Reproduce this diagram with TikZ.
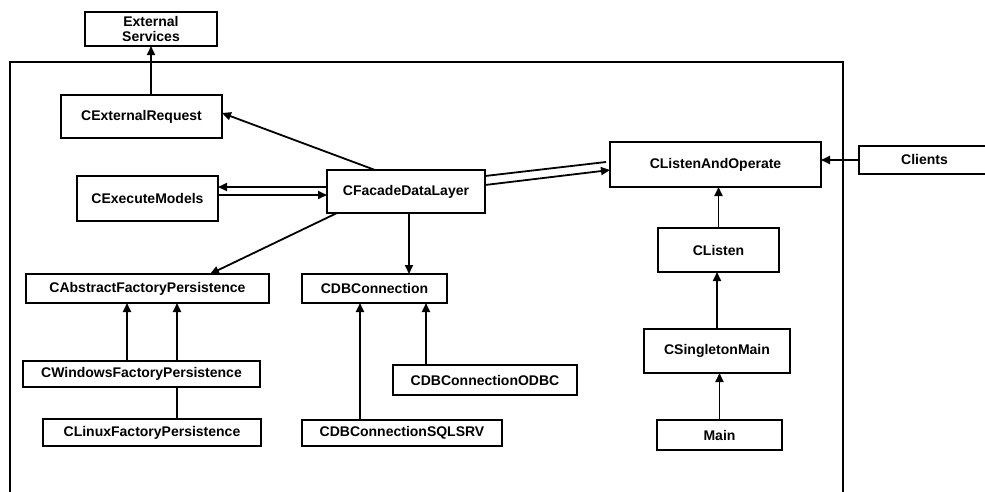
\documentclass[tikz,border=0pt]{standalone}
\usepackage{fontspec}
\setmainfont{Liberation Sans}
\usetikzlibrary{arrows.meta,calc}
\begin{document}
\begin{tikzpicture}[x=1pt,y=-1pt,
  box/.style={draw,line width=1.8pt,inner sep=0pt,outer sep=0pt,
    font=\bfseries\fontsize{14}{15}\selectfont,align=center},
  openbox/.style={box,draw=none},
  conn/.style={line width=1.8pt},
  arr/.style={line width=1.8pt,-{Triangle[length=9pt,width=8pt]}}]
\useasboundingbox (0,0) rectangle (985,491);
% frame
\coordinate (fbl) at (10,495);
\coordinate (ftl) at (10,62);
\coordinate (ftr) at (843,62);
\coordinate (fbr) at (843,495);
\draw[conn] (fbl) -- (ftl) -- (ftr) -- (fbr);
% nodes
\node[box,minimum width=132,minimum height=34] (ext) at (151,29) {External\\Services};
\node[box,minimum width=161,minimum height=43] (extreq) at (141.5,116.5) {CExternalRequest};
\node[box,minimum width=158,minimum height=43] (facade) at (406,191.5) {CFacadeDataLayer};
\node[box,minimum width=211,minimum height=45] (listenop) at (715.5,164.5) {CListenAndOperate};
\node[openbox,minimum width=131,minimum height=28] (clients) at (924.5,160) {\raisebox{1.5pt}{Clients}};
\draw[conn] ([xshift=30]clients.north east) -- (clients.north west) -- (clients.south west) -- ([xshift=30]clients.south east);
\node[box,minimum width=141,minimum height=45] (execm) at (147.5,198.5) {CExecuteModels};
\node[box,minimum width=243,minimum height=29] (abstract) at (147.5,288.5) {CAbstractFactoryPersistence};
\node[box,minimum width=237,minimum height=26] (windows) at (141.5,374) {CWindowsFactoryPersistence};
\node[box,minimum width=218,minimum height=27] (linux) at (152,432.5) {CLinuxFactoryPersistence};
\node[box,minimum width=145,minimum height=29] (dbconn) at (374.5,288.5) {CDBConnection};
\node[box,minimum width=184,minimum height=30] (odbc) at (485,380) {CDBConnectionODBC};
\node[box,minimum width=200,minimum height=26] (sqlsrv) at (402,433) {CDBConnectionSQLSRV};
\node[box,minimum width=121,minimum height=44] (listen) at (718.5,250) {CListen};
\node[box,minimum width=146,minimum height=44] (singleton) at (717,351) {CSingletonMain};
\node[box,minimum width=125,minimum height=30] (main) at (719.5,435) {Main};
% connectors
\draw[arr] (extreq.north -| ext.south) -- (ext.south);
\draw[arr] ([xshift=-31]facade.north) -- ([yshift=3.5]extreq.east);
\draw[conn] ([yshift=15.5]facade.east) -- ([xshift=-4,yshift=2.5]listenop.west);
\draw[arr] ([yshift=6.5]facade.east) -- ([yshift=-5.5]listenop.west);
\draw[arr] (clients.west) -- (clients.west -| listenop.east);
\draw[arr] ([yshift=4.5]facade.west) -- ([yshift=4.5]facade.west -| execm.east);
\draw[arr] ([yshift=-3.5]facade.west -| execm.east) -- ([yshift=-3.5]facade.west);
\draw[arr] ([xshift=-69]facade.south) -- ([xshift=62.5]abstract.north);
\draw[arr] ([xshift=3]facade.south) -- ([xshift=3]facade.south |- dbconn.north);
\draw[arr] ([xshift=-14.5]windows.north) -- ([xshift=-14.5]windows.north |- abstract.south);
\draw[arr] ([xshift=35.5]windows.north) -- ([xshift=35.5]windows.north |- abstract.south);
\draw[conn] ([xshift=25]linux.north) -- ([xshift=25]linux.north |- windows.south);
\draw[arr] ([xshift=-59]odbc.north) -- ([xshift=-59]odbc.north |- dbconn.south);
\draw[arr] ([xshift=-42]sqlsrv.north) -- ([xshift=-42]sqlsrv.north |- dbconn.south);
\draw[arr] (listen.north) -- (listen.north |- listenop.south);
\draw[arr] (singleton.north) -- (singleton.north |- listen.south);
\draw[arr] (main.north) -- (main.north |- singleton.south);
\end{tikzpicture}
\end{document}
